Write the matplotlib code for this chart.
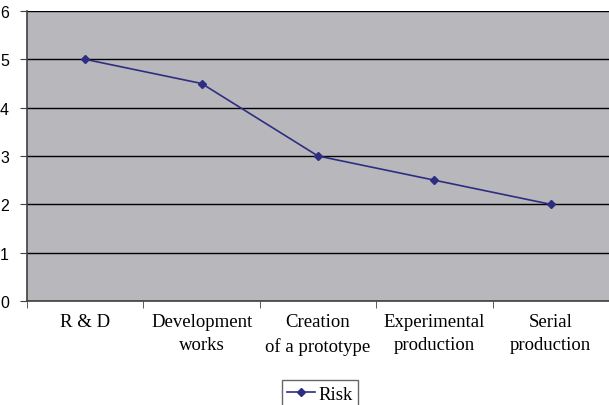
import matplotlib
matplotlib.use("Agg")
import matplotlib.pyplot as plt
import numpy as np

categories = ["R & D", "Development\nworks", "Creation\nof a prototype", "Experimental\nproduction", "Serial\nproduction"]
risk = [5, 4.5, 3, 2.5, 2]
yticks = [0, 1, 2, 3, 4, 5, 6]

fig = plt.figure(figsize=(6.09, 4.06), dpi=100)
ax = fig.add_axes([27/609, 1-302/406, 1-27/609, (302-12)/406])
ax.set_facecolor("#B8B8BC")
x = np.arange(len(categories))
ax.plot(x, risk, color="#2E2E80", lw=1.2, marker="D", ms=4.5, label="Risk")
ax.set_xlim(-0.5, len(categories)-0.5)
ax.set_ylim(0, 6)
ax.set_yticks(yticks)
ax.yaxis.grid(True, color="black", lw=1)
ax.set_axisbelow(True)
ax.set_xticks(x)
ax.set_xticklabels(categories, family="Liberation Serif", fontsize=13.5, linespacing=1.45)
ax.set_xticks(np.arange(-0.5, len(categories)), minor=True)
ax.tick_params(axis="x", which="major", length=0, pad=9)
ax.tick_params(axis="x", which="minor", length=5, color="#404040")
ax.tick_params(axis="y", length=5, color="#404040", labelsize=11.5, pad=8)
for lbl in ax.get_yticklabels():
    lbl.set_family("Liberation Sans")
for s in ["top", "right"]:
    ax.spines[s].set_visible(False)
for s in ["left", "bottom"]:
    ax.spines[s].set_color("#404040")
    ax.spines[s].set_linewidth(1.2)
leg = fig.legend(loc="center", bbox_to_anchor=(320/609, 1-395/406), frameon=True,
                 fancybox=False, edgecolor="#404040", prop={"family": "Liberation Serif", "size": 13.5},
                 handlelength=1.5, handletextpad=0.15, borderpad=0.3, borderaxespad=0)
leg.get_frame().set_linewidth(1)
fig.savefig("out.png", dpi=100)
